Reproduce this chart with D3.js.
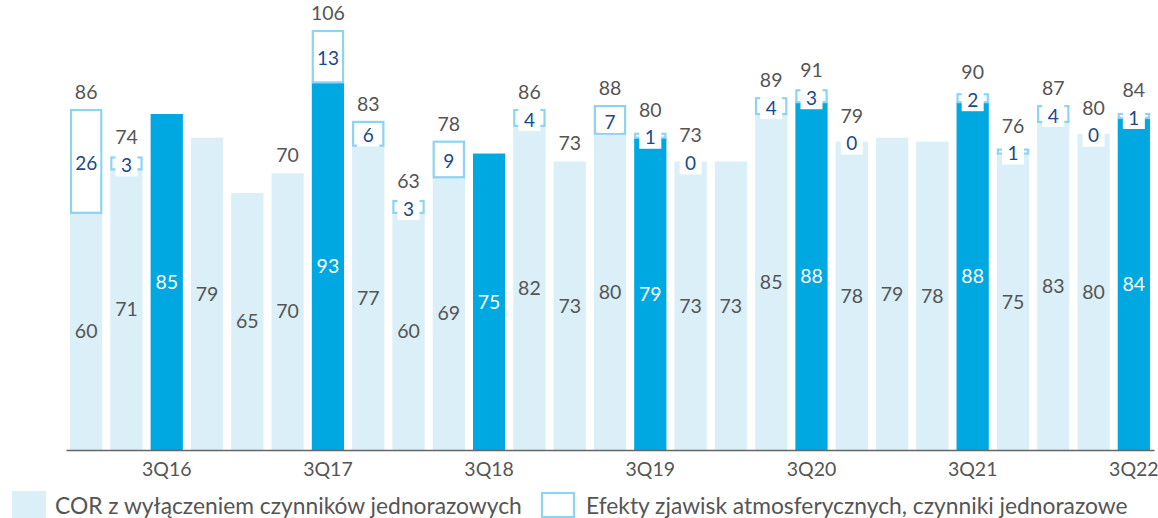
<!DOCTYPE html>
<html>
<head>
<meta charset="utf-8">
<script src="https://cdn.jsdelivr.net/npm/d3@7"></script>
<style>
  body { margin: 0; background: #fff; }
  svg { display: block; font-family: Lato, "Noto Sans", sans-serif; }
</style>
</head>
<body>
<div id="chart"></div>
<script>
// quarters on the x axis
var quarters = ["1Q16","2Q16","3Q16","4Q16","1Q17","2Q17","3Q17","4Q17",
                "1Q18","2Q18","3Q18","4Q18","1Q19","2Q19","3Q19","4Q19",
                "1Q20","2Q20","3Q20","4Q20","1Q21","2Q21","3Q21","4Q21",
                "1Q22","2Q22","3Q22"];
var tickLabels = ["3Q16","3Q17","3Q18","3Q19","3Q20","3Q21","3Q22"];

// COR without one-off factors
var corBase = [60,71,85,79,65,70,93,77,60,69,75,82,73,80,79,73,73,85,88,78,79,78,88,75,83,80,84];
// weather effects / one-off factors (null = none)
var oneOffs = [26,3,0,null,null,null,13,6,3,9,null,4,null,7,1,0,null,4,3,0,null,null,2,1,4,0,1];
// total labels above bars (null = no label)
var totals = [86,74,null,null,null,70,106,83,63,78,null,86,73,88,80,73,null,89,91,79,null,null,90,76,87,80,84];

var legendLabels = ["COR z wyłączeniem czynników jednorazowych",
                    "Efekty zjawisk atmosferycznych, czynniki jednorazowe"];

var width = 1158, height = 518;
var lightBlue = "#daeff8", darkBlue = "#00a8e1", outline = "#8dd4f2",
    navy = "#1a4a8a", grey = "#555";

var svg = d3.select("#chart").append("svg")
    .attr("width", width)
    .attr("height", height);

var x = d3.scaleBand().domain(quarters).range([66, 1154])
    .paddingInner(0.2).paddingOuter(0.1);
var y = d3.scaleLinear().domain([0, 106]).range([450, 31]);

var data = quarters.map(function(q, i) {
    return {q: q, base: corBase[i], extra: oneOffs[i], total: totals[i], dark: q.indexOf("3Q") === 0};
});

// base bars
svg.selectAll("rect.base")
    .data(data)
    .enter().append("rect")
    .attr("class", "base")
    .attr("x", function(d) { return x(d.q); })
    .attr("width", x.bandwidth())
    .attr("y", function(d) { return y(d.base); })
    .attr("height", function(d) { return y(0) - y(d.base); })
    .attr("fill", function(d) { return d.dark ? darkBlue : lightBlue; });

// one-off boxes
var withExtra = data.filter(function(d) { return d.extra !== null; });
svg.selectAll("rect.extra")
    .data(withExtra)
    .enter().append("rect")
    .attr("class", "extra")
    .attr("x", function(d) { return x(d.q) + 1; })
    .attr("width", x.bandwidth() - 2)
    .attr("y", function(d) { return y(d.base + d.extra); })
    .attr("height", function(d) { return y(d.base) - y(d.base + d.extra); })
    .attr("fill", "#fff")
    .attr("stroke", outline)
    .attr("stroke-width", 2.2);

// one-off labels with white background
function boxMid(d) { return (y(d.base) + y(d.base + d.extra)) / 2; }
var labelled = withExtra.filter(function(d) { return d.total !== null; });
var eg = svg.selectAll("g.extra-label")
    .data(labelled)
    .enter().append("g")
    .attr("class", "extra-label")
    .attr("transform", function(d) {
        return "translate(" + (x(d.q) + x.bandwidth() / 2) + "," + boxMid(d) + ")";
    });
eg.append("rect")
    .attr("x", function(d) { return String(d.extra).length > 1 ? -14 : -11; })
    .attr("width", function(d) { return String(d.extra).length > 1 ? 28 : 22; })
    .attr("y", -9)
    .attr("height", 22)
    .attr("fill", "#fff");
eg.append("text")
    .attr("text-anchor", "middle")
    .attr("dy", "0.35em")
    .attr("y", 2)
    .attr("font-size", 19)
    .attr("fill", navy)
    .text(function(d) { return d.extra; });

// base labels
svg.selectAll("text.base")
    .data(data)
    .enter().append("text")
    .attr("class", "base")
    .attr("x", function(d) { return x(d.q) + x.bandwidth() / 2; })
    .attr("y", function(d) { return (y(0) + y(d.base)) / 2; })
    .attr("dy", "0.35em")
    .attr("text-anchor", "middle")
    .attr("font-size", 19.5)
    .attr("fill", function(d) { return d.dark ? "#fff" : grey; })
    .text(function(d) { return d.base; });

// totals, lifted above the one-off label when the box is small
svg.selectAll("text.total")
    .data(data.filter(function(d) { return d.total !== null; }))
    .enter().append("text")
    .attr("class", "total")
    .attr("x", function(d) { return x(d.q) + x.bandwidth() / 2; })
    .attr("y", function(d) {
        var top = y(d.base + (d.extra || 0));
        var c = top - 18;
        if (d.extra !== null) c = Math.min(c, boxMid(d) - 26);
        return c + 7;
    })
    .attr("text-anchor", "middle")
    .attr("font-size", 19.5)
    .attr("fill", grey)
    .text(function(d) { return d.total; });

// x axis
var xAxis = svg.append("g")
    .attr("transform", "translate(0," + y(0) + ")")
    .call(d3.axisBottom(x).tickValues(tickLabels).tickSize(0).tickPadding(12));
xAxis.select(".domain").attr("stroke", "#666").attr("stroke-width", 1.6);
xAxis.selectAll("text")
    .attr("font-family", "Lato, sans-serif")
    .attr("font-size", 19.5)
    .attr("fill", grey);

// legend
svg.append("rect").attr("x", 12).attr("y", 491).attr("width", 34).attr("height", 30)
    .attr("fill", lightBlue);
svg.append("text").attr("x", 55).attr("y", 514).attr("font-size", 22.8).attr("fill", grey)
    .text(legendLabels[0]);
svg.append("rect").attr("x", 542).attr("y", 493).attr("width", 32).attr("height", 24)
    .attr("fill", "#fff").attr("stroke", outline).attr("stroke-width", 2.2);
svg.append("text").attr("x", 586).attr("y", 514).attr("font-size", 22.8).attr("fill", grey)
    .text(legendLabels[1]);
</script>
</body>
</html>
